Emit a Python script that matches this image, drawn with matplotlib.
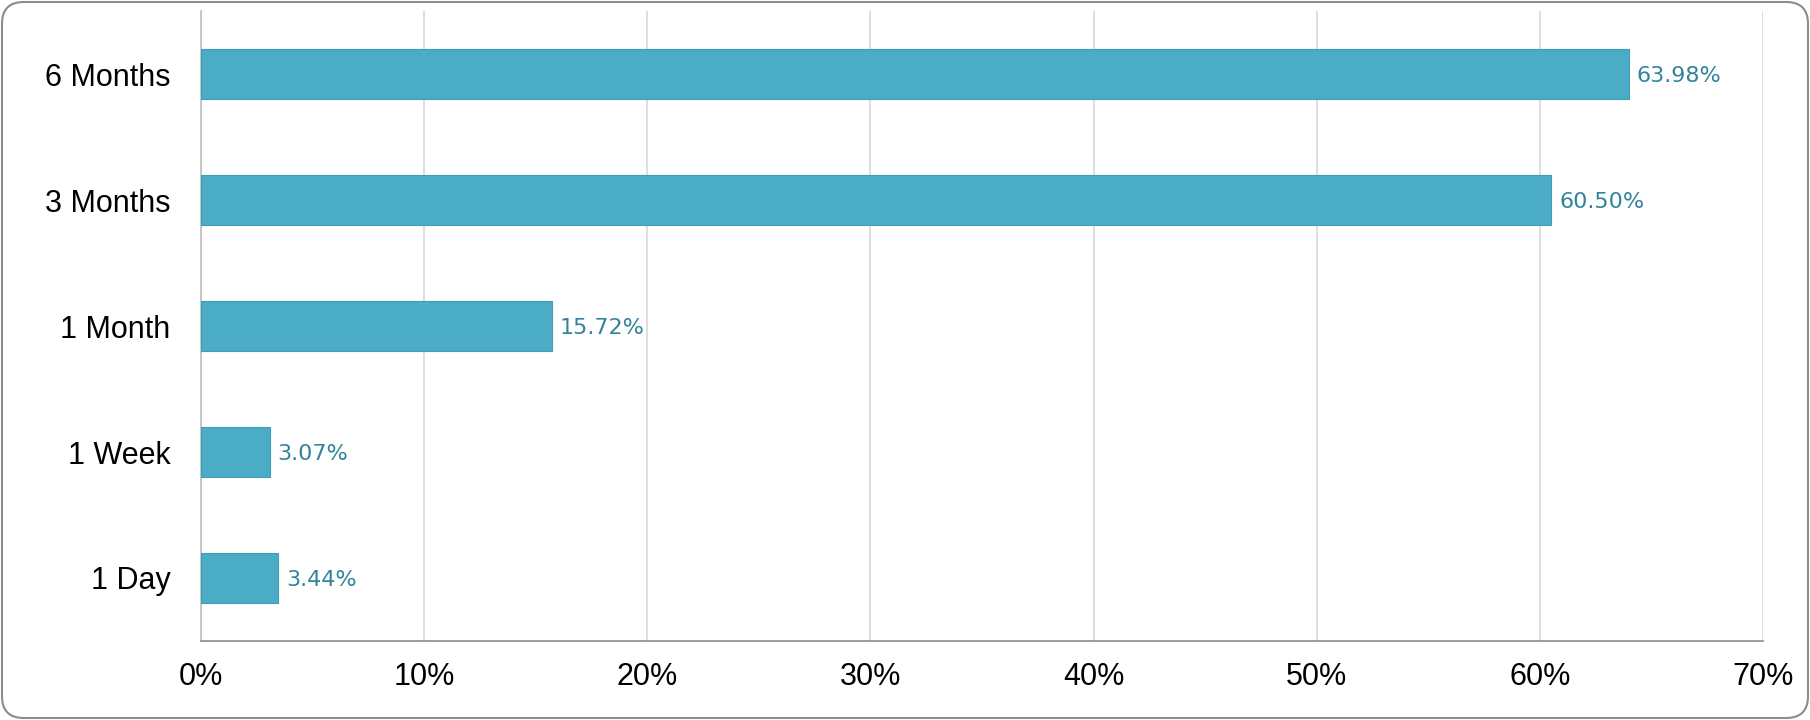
import matplotlib
matplotlib.use('Agg')
import matplotlib.pyplot as plt
from matplotlib.patches import FancyBboxPatch

# data
categories = ['1 Day', '1 Week', '1 Month', '3 Months', '6 Months']
values = [3.44, 3.07, 15.72, 60.50, 63.98]
x_ticks = [0, 10, 20, 30, 40, 50, 60, 70]

bar_color = '#4BACC6'
label_color = '#31849B'

fig = plt.figure(figsize=(18.1, 7.2), dpi=100)
ax = fig.add_axes([201 / 1810, 79 / 720, 1562 / 1810, 630 / 720])

y = range(len(categories))
bars = ax.barh(y, values, height=0.4, color=bar_color, edgecolor='#3F9DB8', linewidth=0.8, zorder=3)

for b, v in zip(bars, values):
    ax.annotate(f'{v:.2f}%', (b.get_width(), b.get_y() + b.get_height() / 2),
                xytext=(8, 0), textcoords='offset pixels', va='center_baseline', ha='left',
                fontsize=16, color=label_color, family='DejaVu Sans')

ax.set_xlim(0, 70)
ax.set_ylim(-0.5, len(categories) - 0.5)
ax.set_xticks(x_ticks)
ax.set_xticklabels([f'{t}%' for t in x_ticks], fontsize=22, family='Liberation Sans')
ax.set_yticks(list(y))
ax.set_yticklabels(categories, fontsize=22, family='Liberation Sans')
ax.tick_params(axis='x', length=0, pad=15)
ax.tick_params(axis='y', length=0, pad=22)

ax.grid(axis='x', color='#D9D9D9', linewidth=1.2, zorder=0)
for s in ['top', 'right']:
    ax.spines[s].set_visible(False)
ax.spines['left'].set_color('#BFBFBF')
ax.spines['left'].set_linewidth(1.2)
ax.spines['bottom'].set_color('#8C8C8C')
ax.spines['bottom'].set_linewidth(1.2)

# rounded outer border
border = FancyBboxPatch((2 / 1810, 2 / 720), 1 - 4 / 1810, 1 - 4 / 720,
                        boxstyle='round,pad=0,rounding_size=0.012',
                        transform=fig.transFigure, facecolor='none',
                        edgecolor='#8C8C8C', linewidth=1.5, mutation_aspect=1810 / 720)
fig.patches.append(border)

fig.savefig('out.png', dpi=100, facecolor='white')
